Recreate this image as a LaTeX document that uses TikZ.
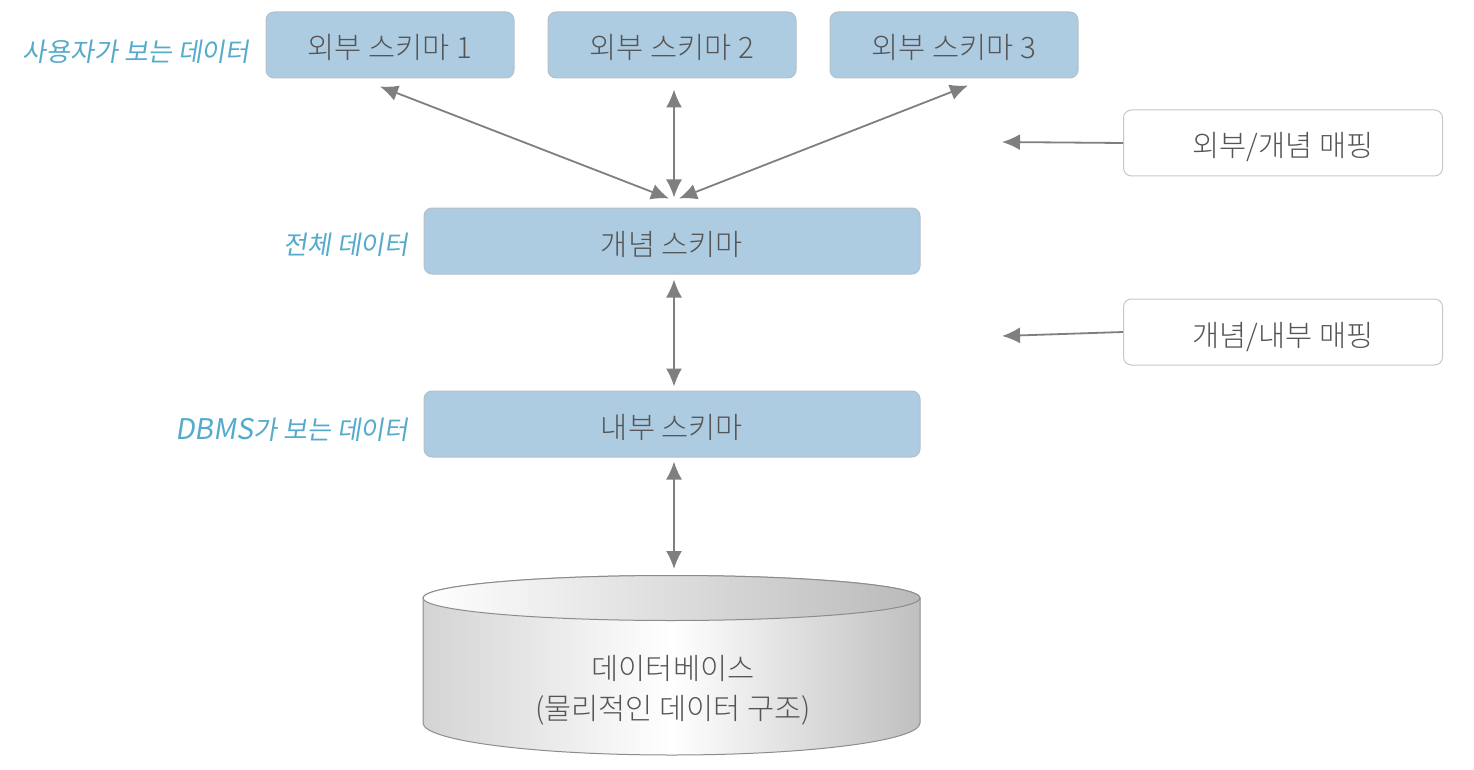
\documentclass[tikz,border=0pt]{standalone}
\usepackage{fontspec}
\setmainfont{Noto Sans CJK KR}[UprightFont=* Light]
\newfontfamily\handfont[FakeSlant=0.16]{Noto Sans CJK KR}
\usetikzlibrary{arrows.meta,calc}
\definecolor{boxblue}{HTML}{AECCE1}
\definecolor{boxedge}{HTML}{B4C0CA}
\definecolor{txt}{HTML}{555555}
\definecolor{hand}{HTML}{55ABCB}
\definecolor{arrowgray}{HTML}{7F7F7F}
\tikzset{
  schemabox/.style={draw=boxedge,line width=1pt,fill=boxblue,rounded corners=8pt,text=txt,font=\fontsize{29.5}{34}\selectfont,inner sep=0pt,minimum height=66pt,text height=30pt,text depth=2pt},
  mapbox/.style={draw=black!22,line width=1pt,fill=white,rounded corners=8pt,text=txt,font=\fontsize{29.5}{34}\selectfont,inner sep=0pt,minimum width=319pt,minimum height=66pt,text height=30pt,text depth=2pt},
  handlabel/.style={text=hand,font=\handfont\fontsize{26}{30}\selectfont,inner sep=0pt,anchor=east},
  conn/.style={draw=arrowgray,line width=1.8pt,{Latex[length=18pt,width=16pt]}-{Latex[length=18pt,width=16pt]}},
  oneway/.style={draw=arrowgray,line width=1.8pt,-{Latex[length=18pt,width=16pt]}},
  dbtext/.style={text=txt,font=\fontsize{29.5}{40}\selectfont,align=center,inner sep=0pt}
}
\begin{document}
\begin{tikzpicture}[x=1pt,y=-1pt]
\useasboundingbox (0,0) rectangle (1474,770);
\node[schemabox,minimum width=248pt] (e1) at (390,45) {외부 스키마 1};
\node[schemabox,minimum width=248pt] (e2) at (672,45) {외부 스키마 2};
\node[schemabox,minimum width=248pt] (e3) at (954,45) {외부 스키마 3};
\node[schemabox,minimum width=496pt] (c) at (672,241) {개념 스키마};
\node[schemabox,minimum width=496pt] (i) at (672,424) {내부 스키마};
\node[mapbox] (m1) at (1283,143) {외부/개념 매핑};
\node[mapbox] (m2) at (1283,332) {개념/내부 매핑};
\node[handlabel] (l1) at (250,52) {사용자가 보는 데이터};
\node[handlabel] (l2) at (409,245) {전체 데이터};
\node[handlabel] (l3) at (409,430) {{\fontsize{28.5}{30}\selectfont DBMS}가 보는 데이터};
% cylinder
\path[left color=black!17,right color=black!25,middle color=white,draw=black!45,line width=1pt]
  (423,598) -- (423,723) arc[start angle=180,end angle=0,x radius=248.5,y radius=32] -- (920,598)
  arc[start angle=0,end angle=-180,x radius=248.5,y radius=22.5] -- cycle;
\path[left color=white,right color=black!27,draw=black!45,line width=1pt]
  (671.5,598) ellipse[x radius=248.5,y radius=22.5];
\coordinate (dbtop) at (674,576);
\node[dbtext] (db) at (673,690) {데이터베이스\\(물리적인 데이터 구조)};
% connectors
\coordinate (m1end) at (1002,142);
\coordinate (m2end) at (1002,336);
\draw[conn] ($(e1.south)+(-10,8)$) -- ($(c.north)+(-3,-9)$);
\draw[conn] ($(e2.south)+(2,11)$) -- ($(c.north)+(2,-10)$);
\draw[conn] ($(e3.south)+(14,7)$) -- ($(c.north)+(7,-9)$);
\draw[conn] ($(c.south)+(2,5)$) -- ($(i.north)+(2,-4)$);
\draw[conn] ($(i.south)+(2,4)$) -- ($(dbtop)+(0,-7)$);
\draw[oneway] (m1.west) -- (m1end);
\draw[oneway] (m2.west) -- (m2end);
\end{tikzpicture}
\end{document}
